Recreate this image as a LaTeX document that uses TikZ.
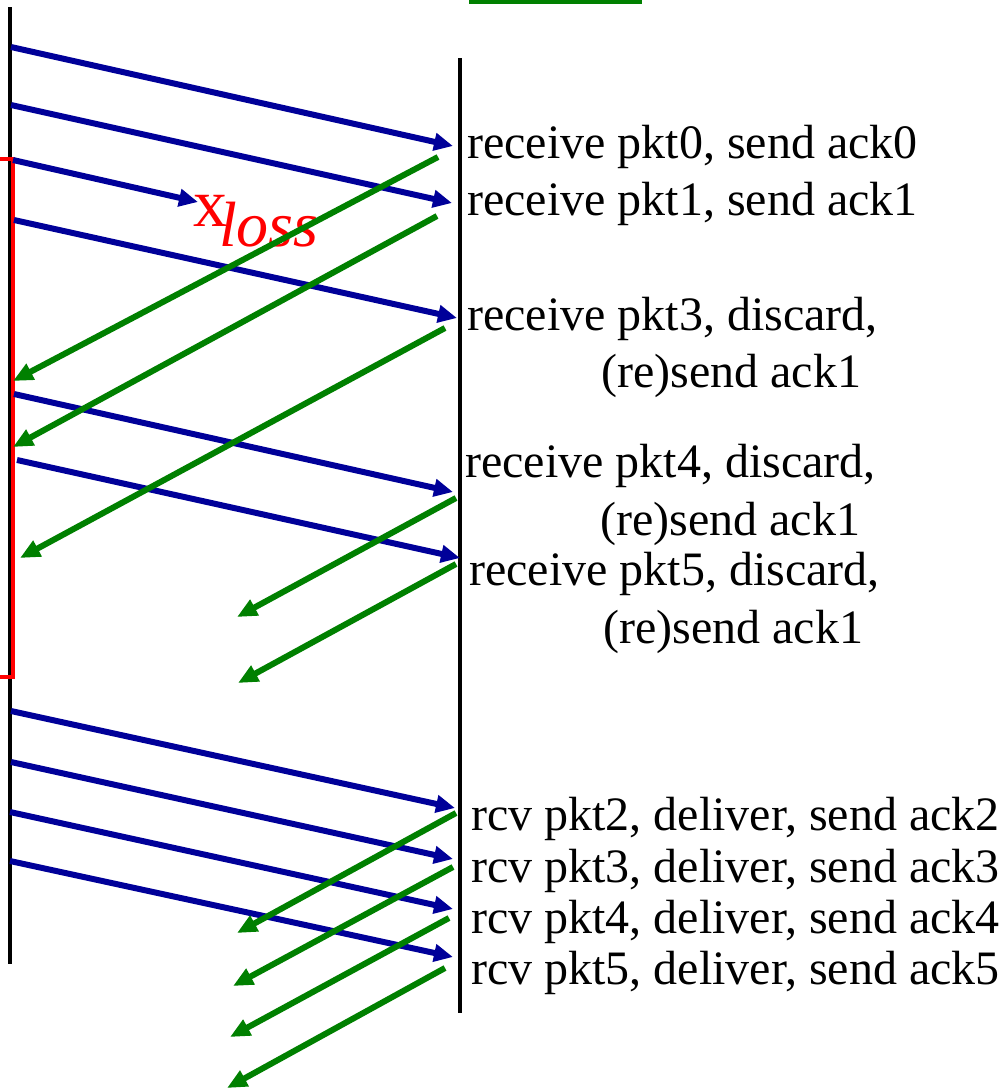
\documentclass[tikz,border=0pt]{standalone}
\usepackage{fontspec}
\setmainfont{Liberation Serif}
\usetikzlibrary{arrows.meta}
\definecolor{pktblue}{RGB}{0,0,153}
\definecolor{ackgreen}{RGB}{0,128,0}
\definecolor{lossred}{RGB}{255,0,0}
\begin{document}
\begin{tikzpicture}[x=1pt,y=-1pt,
  timeline/.style={draw=black,line width=3.5pt},
  pkt/.style={draw=pktblue,line width=6pt,-{Triangle[length=19pt,width=17pt]}},
  ack/.style={draw=ackgreen,line width=6pt,-{Triangle[length=20pt,width=17pt]}},
  bracket/.style={draw=lossred,line width=4pt},
  lbl/.style={anchor=base west,inner sep=0pt,font=\fontsize{48}{56}\selectfont},
  losslbl/.style={anchor=base west,inner sep=0pt,text=lossred}]
\useasboundingbox (0,0) rectangle (1005,1090);
% time lines
\coordinate (sTop) at (10,7);
\coordinate (sBot) at (10,964);
\coordinate (rTop) at (460,58);
\coordinate (rBot) at (460,1013);
\draw[timeline] (sTop) -- (sBot);
\draw[timeline] (rTop) -- (rBot);
% green mark at top
\coordinate (gA) at (469,1);
\coordinate (gB) at (642,1);
\draw[draw=ackgreen,line width=5pt] (gA) -- (gB);
% red bracket (window)
\coordinate (rb1) at (0,159);
\coordinate (rb2) at (13,159);
\coordinate (rb3) at (13,677);
\coordinate (rb4) at (0,677);
\draw[bracket] (rb1) -- (rb2) -- (rb3) -- (rb4);
% packet coordinates
\coordinate (p0s) at (11,47);  \coordinate (p0e) at (453,146);
\coordinate (p1s) at (11,105); \coordinate (p1e) at (452,203);
\coordinate (p2s) at (13,160); \coordinate (p2e) at (198,202);
\coordinate (p3s) at (14,220); \coordinate (p3e) at (457,318);
\coordinate (p4s) at (14,394); \coordinate (p4e) at (453,492);
\coordinate (p5s) at (17,460); \coordinate (p5e) at (460,558);
\coordinate (q2s) at (11,711); \coordinate (q2e) at (455,808);
\coordinate (q3s) at (11,762); \coordinate (q3e) at (453,859);
\coordinate (q4s) at (10,812); \coordinate (q4e) at (453,909);
\coordinate (q5s) at (10,861); \coordinate (q5e) at (453,957);
\draw[pkt] (p0s) -- (p0e);
\draw[pkt] (p1s) -- (p1e);
\draw[pkt] (p2s) -- (p2e);
\draw[pkt] (p3s) -- (p3e);
\draw[pkt] (p4s) -- (p4e);
\draw[pkt] (p5s) -- (p5e);
\draw[pkt] (q2s) -- (q2e);
\draw[pkt] (q3s) -- (q3e);
\draw[pkt] (q4s) -- (q4e);
\draw[pkt] (q5s) -- (q5e);
% loss label
\node[losslbl,font=\fontsize{68}{74}\selectfont] (lx) at (193,226) {x};
\node[losslbl,font=\fontsize{64}{70}\selectfont\itshape] (lloss) at (219,246) {loss};
% ack coordinates
\coordinate (a0s) at (438,157); \coordinate (a0e) at (13,381);
\coordinate (a1s) at (437,216); \coordinate (a1e) at (13,447);
\coordinate (a3s) at (445,328); \coordinate (a3e) at (20,558);
\coordinate (a4s) at (456,498); \coordinate (a4e) at (237,617);
\coordinate (a5s) at (456,564); \coordinate (a5e) at (238,683);
\coordinate (b2s) at (456,813); \coordinate (b2e) at (237,933);
\coordinate (b3s) at (453,867); \coordinate (b3e) at (233,986);
\coordinate (b4s) at (449,918); \coordinate (b4e) at (230,1037);
\coordinate (b5s) at (445,968); \coordinate (b5e) at (227,1088);
\draw[ack] (a0s) -- (a0e);
\draw[ack] (a1s) -- (a1e);
\draw[ack] (a3s) -- (a3e);
\draw[ack] (a4s) -- (a4e);
\draw[ack] (a5s) -- (a5e);
\draw[ack] (b2s) -- (b2e);
\draw[ack] (b3s) -- (b3e);
\draw[ack] (b4s) -- (b4e);
\draw[ack] (b5s) -- (b5e);
% receiver labels
\node[lbl] (t0) at (467,158) {receive pkt0, send ack0};
\node[lbl] (t1) at (467,215) {receive pkt1, send ack1};
\node[lbl] (t3) at (467,330) {receive pkt3, discard,};
\node[lbl] (t3b) at (601,387) {(re)send ack1};
\node[lbl] (t4) at (465,477) {receive pkt4, discard,};
\node[lbl] (t4b) at (600,535) {(re)send ack1};
\node[lbl] (t5) at (469,585) {receive pkt5, discard,};
\node[lbl] (t5b) at (603,643) {(re)send ack1};
\node[lbl] (u2) at (471,830) {rcv pkt2, deliver, send ack2};
\node[lbl] (u3) at (471,882) {rcv pkt3, deliver, send ack3};
\node[lbl] (u4) at (471,933) {rcv pkt4, deliver, send ack4};
\node[lbl] (u5) at (471,984) {rcv pkt5, deliver, send ack5};
\end{tikzpicture}
\end{document}
